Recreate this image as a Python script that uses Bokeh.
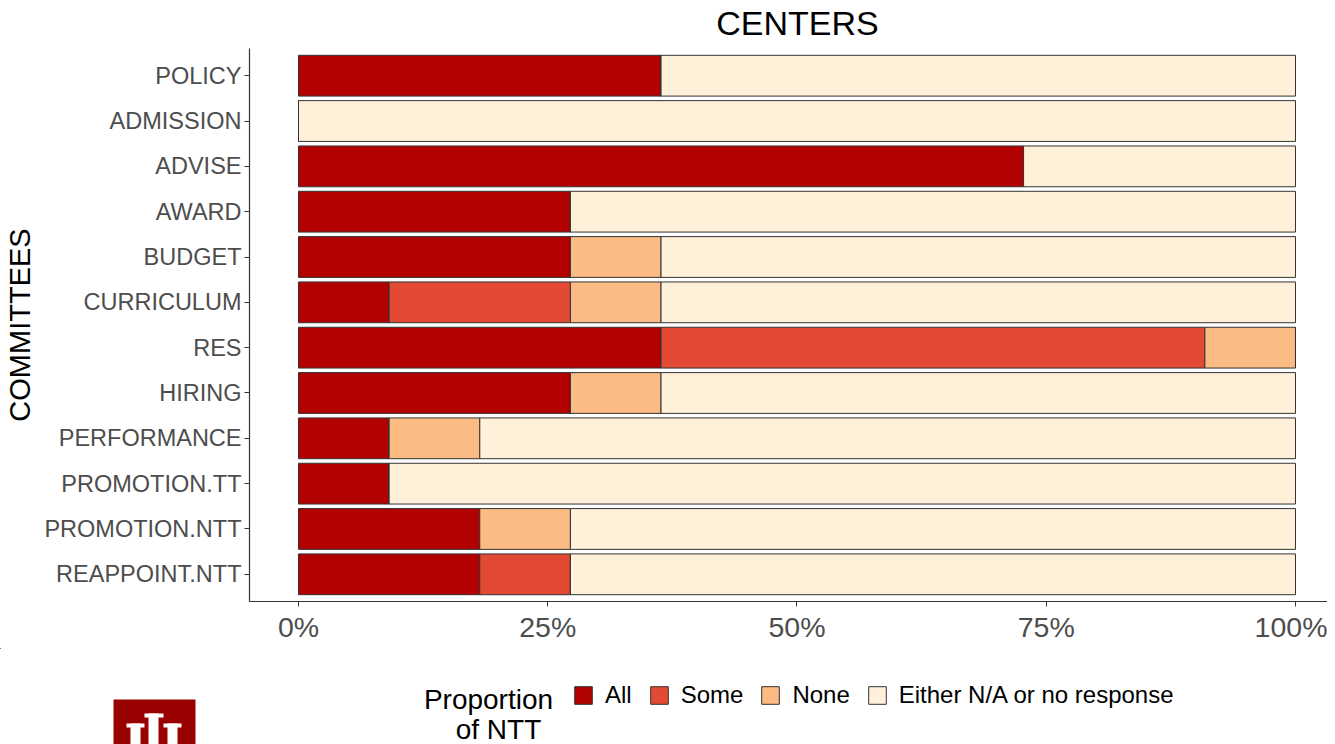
from bokeh.plotting import figure
from bokeh.models import ColumnDataSource, FixedTicker, Label, Legend, LegendItem, Range1d
from bokeh.layouts import column
from bokeh.embed import file_html
from bokeh.resources import INLINE

committees = ["POLICY", "ADMISSION", "ADVISE", "AWARD", "BUDGET", "CURRICULUM", "RES",
              "HIRING", "PERFORMANCE", "PROMOTION.TT", "PROMOTION.NTT", "REAPPOINT.NTT"]
# proportions of centers (n = 11)
all_v  = [4/11, 0,    8/11, 3/11, 3/11, 1/11, 4/11, 3/11, 1/11, 1/11, 2/11, 2/11]
some_v = [0,    0,    0,    0,    0,    2/11, 6/11, 0,    0,    0,    0,    1/11]
none_v = [0,    0,    0,    0,    1/11, 1/11, 1/11, 1/11, 1/11, 0,    1/11, 0]
na_v   = [1 - a - s - n for a, s, n in zip(all_v, some_v, none_v)]

series = ["All", "Some", "None", "Either N/A or no response"]
colors = ["#B30000", "#E34A33", "#FDBB84", "#FEF0D9"]
xticks = [0, 0.25, 0.5, 0.75, 1.0]
xtick_labels = ["0%", "25%", "50%", "75%", "100%"]

FONT = "Liberation Sans"
W = 1327


def strip(height, top):
    """A frame-only figure whose data space equals page pixel space."""
    f = figure(width=W, height=height, output_backend="svg", toolbar_location=None,
               x_range=Range1d(0, W), y_range=Range1d(top + height, top),
               x_axis_location=None, y_axis_location=None,
               min_border_left=0, min_border_right=0, min_border_top=0, min_border_bottom=0)
    f.outline_line_color = None
    f.xgrid.grid_line_color = None
    f.ygrid.grid_line_color = None
    f.frame_align = False
    return f


# ---- title strip ----
TH = 48
tfig = strip(TH, 0)
tfig.add_layout(Label(x=797, y=22, text="CENTERS", text_font=FONT, text_font_size="34px",
                      text_color="black", text_align="center", text_baseline="middle"))

# ---- main chart ----
n = len(committees)
ypos = [n - i for i in range(n)]  # POLICY on top
src = ColumnDataSource(dict(y=ypos, All=all_v, Some=some_v, NoneV=none_v, NA=na_v))

MH = 600
p = figure(width=W, height=MH, output_backend="svg", toolbar_location=None,
           x_range=(-0.04915, 1.0321), y_range=(0.4, n + 0.6),
           min_border_left=249, min_border_right=0, min_border_top=0, min_border_bottom=47)
p.outline_line_color = None
p.xgrid.grid_line_color = None
p.ygrid.grid_line_color = None
p.frame_align = False

renderers = p.hbar_stack(["All", "Some", "NoneV", "NA"], y="y", height=0.9, source=src,
                         color=colors, line_color="#333333", line_width=1)

p.xaxis.ticker = FixedTicker(ticks=xticks)
p.xaxis.major_label_overrides = {t: l for t, l in zip(xticks, xtick_labels)}
p.yaxis.ticker = FixedTicker(ticks=ypos)
p.yaxis.major_label_overrides = {y: c for y, c in zip(ypos, committees)}
for ax in (p.xaxis, p.yaxis):
    ax.axis_line_color = "#333333"
    ax.axis_line_width = 1.2
    ax.major_tick_line_color = "#333333"
    ax.major_tick_out = 5
    ax.major_tick_in = 0
    ax.minor_tick_line_color = None
    ax.major_label_text_font = FONT
    ax.major_label_text_color = "#4D4D4D"
p.xaxis.major_label_text_font_size = "28.5px"
p.xaxis.major_label_standoff = 4
p.yaxis.major_label_text_font_size = "23.5px"
p.yaxis.major_label_standoff = 3
p.yaxis.axis_label = "COMMITTEES"
p.yaxis.axis_label_text_font = FONT
p.yaxis.axis_label_text_font_size = "29px"
p.yaxis.axis_label_text_font_style = "normal"
p.yaxis.axis_label_text_color = "black"
p.yaxis.axis_label_standoff = 5

# ---- legend strip ----
LH = 96
TOP = TH + MH
leg = strip(LH, TOP)
key_renderers = [leg.hbar(y=[-1000], right=[0], left=[0], height=1, fill_color=c,
                          line_color="#333333", line_width=1) for c in colors]
items = [LegendItem(label=s, renderers=[r]) for s, r in zip(series, key_renderers)]
legend = Legend(items=items, orientation="horizontal", location=(572, (TOP + LH) - 709),
                glyph_width=22, glyph_height=22, label_height=22, label_standoff=11, spacing=16,
                padding=0, margin=0, border_line_color=None, background_fill_alpha=0,
                label_text_font=FONT, label_text_font_size="24px", label_text_color="black",
                label_text_baseline="middle")
leg.add_layout(legend, "center")

leg.add_layout(Label(x=488, y=699, text="Proportion", text_font=FONT,
                     text_font_size="28px", text_color="black", text_align="center",
                     text_baseline="middle"))
leg.add_layout(Label(x=498, y=729, text="of NTT", text_font=FONT,
                     text_font_size="28px", text_color="black", text_align="center",
                     text_baseline="middle"))

# logo (crimson block with white trident)
BOT = TOP + LH + 10
leg.quad(left=[113], right=[195], top=[699], bottom=[BOT], fill_color="#990000", line_color=None)
leg.quad(left=[126, 130, 144, 148, 163, 167],
         right=[144, 140, 163, 158, 181, 177],
         top=[723, 723, 713, 713, 723, 723],
         bottom=[727, BOT, 717, BOT, 727, BOT],
         fill_color="white", line_color=None)

layout = column(tfig, p, leg, spacing=0)
open("out.html", "w").write(file_html(layout, INLINE))
